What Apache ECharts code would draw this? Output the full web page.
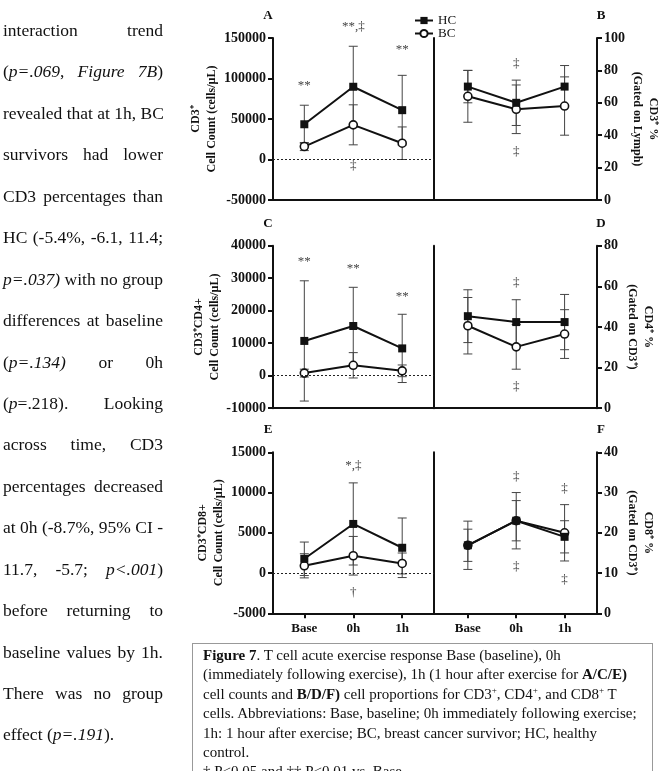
<!DOCTYPE html>
<html>
<head>
<meta charset="utf-8">
<script src="https://cdn.jsdelivr.net/npm/echarts@6.0.0/dist/echarts.min.js"></script>
<style>
  html, body { margin: 0; padding: 0; background: #fff; }
  body { width: 663px; height: 771px; overflow: hidden; position: relative; }
  #chart { position: absolute; left: 0; top: 0; width: 663px; height: 771px; }
  .col { position: absolute; left: 3px; top: 10px; width: 160px; font-family: 'Liberation Serif', serif; font-size: 17.5px; color: #111; }
  .col div { height: 41.45px; line-height: 41.45px; white-space: nowrap; text-align: justify; text-align-last: justify; }
  .col div.last { text-align-last: left; }
  .caption { position: absolute; left: 192px; top: 643px; width: 461px; height: 140px; box-sizing: border-box;
    border: 1px solid #999; padding: 2px 0 0 10px; font-family: 'Liberation Serif', serif; font-size: 15px;
    line-height: 19.4px; color: #111; white-space: nowrap; }
  .caption sup { font-size: 9px; line-height: 0; }
</style>
</head>
<body>
<div id="chart"></div>
<div class="col">
  <div>interaction trend</div>
  <div>(<i>p=.069</i>, <i>Figure 7B</i>)</div>
  <div>revealed that at 1h, BC</div>
  <div>survivors had lower</div>
  <div>CD3 percentages than</div>
  <div>HC (-5.4%, -6.1, 11.4;</div>
  <div><i>p=.037)</i> with no group</div>
  <div>differences at baseline</div>
  <div>(<i>p=.134)</i> or 0h</div>
  <div>(<i>p</i>=.218). Looking</div>
  <div>across time, CD3</div>
  <div>percentages decreased</div>
  <div>at 0h (-8.7%, 95% CI -</div>
  <div>11.7, -5.7; <i>p&lt;.001</i>)</div>
  <div>before returning to</div>
  <div>baseline values by 1h.</div>
  <div>There was no group</div>
  <div class="last">effect (<i>p=.191</i>).</div>
</div>
<div class="caption">
  <b>Figure 7</b>. T cell acute exercise response Base (baseline), 0h<br>
  (immediately following exercise), 1h (1 hour after exercise for <b>A/C/E)</b><br>
  cell counts and <b>B/D/F)</b> cell proportions for CD3<sup>+</sup>, CD4<sup>+</sup>, and CD8<sup>+</sup> T<br>
  cells. Abbreviations: Base, baseline; 0h immediately following exercise;<br>
  1h: 1 hour after exercise; BC, breast cancer survivor; HC, healthy<br>
  control.<br>
  † P&lt;0.05 and †† P&lt;0.01 vs. Base
</div>
<script>
const timepoints = ['Base', '0h', '1h']

// A: CD3+ cell count
const hcCD3Count = [43500, 89800, 60900]
const hcCD3CountSd = [23500, 50000, 43000]
const bcCD3Count = [16000, 42800, 20100]
const bcCD3CountSd = [5000, 24700, 20100]
// B: CD3+ % (gated on lymph)
const hcCD3Pct = [70, 60, 70]
const hcCD3PctSd = [10, 14, 13]
const bcCD3Pct = [64, 56, 58]
const bcCD3PctSd = [16, 15, 18]
// C: CD3+CD4+ cell count
const hcCD4Count = [10700, 15300, 8400]
const hcCD4CountSd = [18500, 11900, 10500]
const bcCD4Count = [800, 3200, 1500]
const bcCD4CountSd = [1200, 3900, 1800]
// D: CD4+ % (gated on CD3+)
const hcCD4Pct = [45.3, 42.4, 42.4]
const hcCD4PctSd = [13, 11, 13.6]
const bcCD4Pct = [40.6, 30.2, 36.5]
const bcCD4PctSd = [13.9, 11, 12]
// E: CD3+CD8+ cell count
const hcCD8Count = [1770, 6100, 3140]
const hcCD8CountSd = [2080, 5100, 3700]
const bcCD8Count = [900, 2150, 1190]
const bcCD8CountSd = [1500, 2400, 1300]
// F: CD8+ % (gated on CD3+)
const hcCD8Pct = [16.9, 23, 19]
const hcCD8PctSd = [6, 7, 4]
const bcCD8Pct = [16.9, 23, 20]
const bcCD8PctSd = [4, 5, 7]

// significance marks: [time index, value, text]
const notesA = [[0, 91400, '**'], [1, 164000, '**,‡'], [2, 135800, '**'], [1, -7400, '‡']]
const notesB = [[1, 84, '‡'], [1, 29.6, '‡']]
const notesC = [[0, 35000, '**'], [1, 33100, '**'], [2, 24200, '**']]
const notesD = [[1, 61.8, '‡'], [1, 10.5, '‡']]
const notesE = [[1, 13400, '*,‡'], [1, -2400, '†']]
const notesF = [[1, 33.9, '‡'], [1, 11.6, '‡'], [2, 30.9, '‡'], [2, 8.3, '‡']]

const FONT = 'Liberation Serif'
const INK = '#111'

const panels = [
  { letter: 'A', col: 0, row: 0, hc: hcCD3Count, hcSd: hcCD3CountSd, bc: bcCD3Count, bcSd: bcCD3CountSd,
    min: -50000, max: 150000, step: 50000, name: 'CD3⁺\nCell Count (cells/µL)', notes: notesA },
  { letter: 'B', col: 1, row: 0, hc: hcCD3Pct, hcSd: hcCD3PctSd, bc: bcCD3Pct, bcSd: bcCD3PctSd,
    min: 0, max: 100, step: 20, name: 'CD3⁺ %\n(Gated on Lymph)', notes: notesB },
  { letter: 'C', col: 0, row: 1, hc: hcCD4Count, hcSd: hcCD4CountSd, bc: bcCD4Count, bcSd: bcCD4CountSd,
    min: -10000, max: 40000, step: 10000, name: 'CD3⁺CD4+\nCell Count (cells/µL)', notes: notesC },
  { letter: 'D', col: 1, row: 1, hc: hcCD4Pct, hcSd: hcCD4PctSd, bc: bcCD4Pct, bcSd: bcCD4PctSd,
    min: 0, max: 80, step: 20, name: 'CD4⁺ %\n(Gated on CD3⁺)', notes: notesD },
  { letter: 'E', col: 0, row: 2, hc: hcCD8Count, hcSd: hcCD8CountSd, bc: bcCD8Count, bcSd: bcCD8CountSd,
    min: -5000, max: 15000, step: 5000, name: 'CD3⁺CD8+\nCell Count (cells/µL)', notes: notesE },
  { letter: 'F', col: 1, row: 2, hc: hcCD8Pct, hcSd: hcCD8PctSd, bc: bcCD8Pct, bcSd: bcCD8PctSd,
    min: 0, max: 40, step: 10, name: 'CD8⁺ %\n(Gated on CD3⁺)', notes: notesF }
]

const colBox = [{ left: 273, width: 161, xMin: -0.64, xMax: 2.65 }, { left: 434, width: 163, xMin: -0.70, xMax: 2.67 }]
const rowBox = [{ top: 38, height: 162 }, { top: 245.7, height: 162.5 }, { top: 452.3, height: 161 }]

const axisLine = { show: true, onZero: false, lineStyle: { color: INK, width: 2 } }
const pts = arr => arr.map((v, i) => [i, v])

const grid = [], xAxis = [], yAxis = [], series = [], graphic = []

panels.forEach((p, i) => {
  const c = colBox[p.col], r = rowBox[p.row]
  grid.push({ left: c.left, top: r.top, width: c.width, height: r.height })
  const bottomRow = p.row === 2
  xAxis.push({
    gridIndex: i, type: 'value', min: c.xMin, max: c.xMax,
    axisLine,
    axisTick: { show: bottomRow, customValues: [0, 1, 2], length: 5, lineStyle: { color: INK, width: 2 } },
    axisLabel: { show: bottomRow, customValues: [0, 1, 2], formatter: v => timepoints[v] || '',
      color: INK, fontFamily: FONT, fontWeight: 'bold', fontSize: 13, margin: 9 },
    splitLine: { show: false }
  })
  const yIdx = yAxis.length
  yAxis.push({
    gridIndex: i, type: 'value', position: p.col === 0 ? 'left' : 'right',
    min: p.min, max: p.max, interval: p.step,
    axisLine,
    axisTick: { show: true, length: 5, lineStyle: { color: INK, width: 2 } },
    axisLabel: { color: INK, fontFamily: FONT, fontWeight: 'bold', fontSize: 14, margin: 7,
      formatter: v => String(v) },
    splitLine: { show: false },
    name: p.name, nameLocation: 'middle',
    nameRotate: p.col === 0 ? 90 : -90,
    nameGap: p.col === 0 ? 44 : 27,
    nameTextStyle: { color: INK, fontFamily: FONT, fontWeight: 'bold', fontSize: 12, lineHeight: 16 }
  })
  if (p.col === 1) {
    // divider line between the two panels
    yAxis.push({
      gridIndex: i, type: 'value', position: 'left', min: 0, max: 1,
      axisLine, axisTick: { show: false }, axisLabel: { show: false }, splitLine: { show: false }
    })
  }

  // error bars (mean ± SD)
  const bars = []
  p.hc.forEach((v, k) => bars.push([k, v - p.hcSd[k], v + p.hcSd[k]]))
  p.bc.forEach((v, k) => bars.push([k, v - p.bcSd[k], v + p.bcSd[k]]))
  series.push({
    type: 'custom', xAxisIndex: i, yAxisIndex: yIdx, silent: true, z: 1,
    data: bars, encode: { x: 0, y: [1, 2] },
    renderItem: (params, api) => {
      const x = api.value(0)
      const lo = api.coord([x, api.value(1)])
      const hi = api.coord([x, api.value(2)])
      const w = 4.5
      const st = { stroke: '#444', lineWidth: 1 }
      return {
        type: 'group', children: [
          { type: 'line', shape: { x1: lo[0], y1: lo[1], x2: hi[0], y2: hi[1] }, style: st },
          { type: 'line', shape: { x1: lo[0] - w, y1: lo[1], x2: lo[0] + w, y2: lo[1] }, style: st },
          { type: 'line', shape: { x1: hi[0] - w, y1: hi[1], x2: hi[0] + w, y2: hi[1] }, style: st }
        ]
      }
    }
  })

  series.push({
    name: 'BC', type: 'line', xAxisIndex: i, yAxisIndex: yIdx, z: 3,
    data: pts(p.bc), symbol: 'circle', symbolSize: 8,
    itemStyle: { color: '#fff', borderColor: INK, borderWidth: 1.6 },
    lineStyle: { color: INK, width: 2 },
    markLine: p.col === 0 ? {
      silent: true, symbol: ['none', 'none'], label: { show: false },
      lineStyle: { color: '#222', width: 1, type: [2, 2] },
      data: [{ yAxis: 0 }]
    } : undefined
  })
  series.push({
    name: 'HC', type: 'line', xAxisIndex: i, yAxisIndex: yIdx, z: 4,
    data: pts(p.hc), symbol: 'rect', symbolSize: 8,
    itemStyle: { color: INK },
    lineStyle: { color: INK, width: 2 }
  })

  // significance marks
  const notes = p.notes
  series.push({
    type: 'custom', xAxisIndex: i, yAxisIndex: yIdx, silent: true, z: 5,
    data: notes.map(n => [n[0], n[1]]),
    renderItem: (params, api) => {
      const pt = api.coord([api.value(0), api.value(1)])
      return {
        type: 'text', x: pt[0], y: pt[1],
        style: { text: notes[params.dataIndex][2], fill: '#444', fontFamily: FONT, fontSize: 13,
          align: 'center', verticalAlign: 'middle' }
      }
    }
  })

  graphic.push({
    type: 'text', x: p.col === 0 ? 268 : 601, y: [16, 224, 430][p.row],
    style: { text: p.letter, fill: INK, fontFamily: FONT, fontWeight: 'bold', fontSize: 13,
      align: 'center', verticalAlign: 'middle' }
  })
})

const chart = echarts.init(document.getElementById('chart'))
chart.setOption({
  animation: false,
  backgroundColor: 'transparent',
  legend: {
    data: ['HC', 'BC'], orient: 'vertical', left: 409, top: 9,
    itemWidth: 18, itemHeight: 9, itemGap: 0,
    textStyle: { color: INK, fontFamily: FONT, fontSize: 13 }
  },
  grid, xAxis, yAxis, series, graphic
})
</script>
</body>
</html>
